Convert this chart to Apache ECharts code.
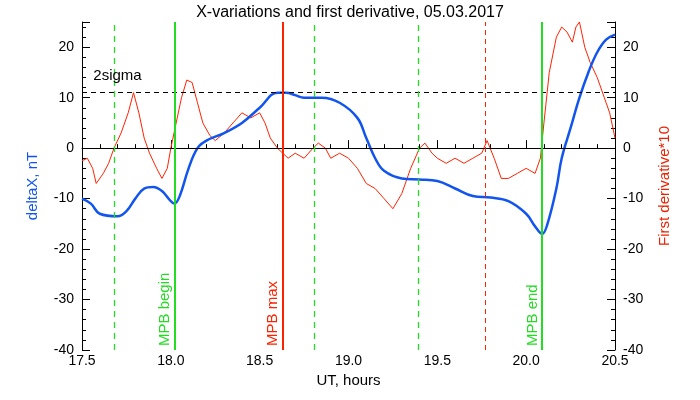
<!DOCTYPE html><html><head><meta charset="utf-8"><script src="https://cdn.jsdelivr.net/npm/echarts@6/dist/echarts.min.js"></script></head><body style="margin:0"><div id="c" style="width:700px;height:400px"></div><script>
const blueX=[17.5,17.55,17.6,17.7,17.75,17.8,17.85,17.9,17.95,18.0,18.02,18.05,18.1,18.15,18.2,18.3,18.4,18.5,18.6,18.65,18.7,18.75,18.85,18.95,19.05,19.1,19.15,19.2,19.3,19.4,19.5,19.6,19.7,19.8,19.9,20.0,20.05,20.09,20.12,20.17,20.2,20.25,20.3,20.35,20.4,20.45,20.5];
const blueY=[-10,-11,-13,-13.5,-12.5,-10,-8,-7.7,-8.5,-10.5,-11,-9.5,-4,0,1.5,3,5,8,11,11,10.5,10,10,9,6,2,-2,-4.5,-6,-6.2,-6.5,-8,-9.5,-9.8,-10.5,-13,-15.5,-17,-15,-8,-2,4,10,15,19,21.5,22.5];
const redX=[17.5,17.53,17.56,17.58,17.62,17.65,17.68,17.72,17.76,17.79,17.82,17.85,17.88,17.92,17.95,17.98,18.0,18.03,18.06,18.09,18.12,18.15,18.18,18.22,18.25,18.3,18.35,18.4,18.45,18.5,18.53,18.56,18.6,18.63,18.66,18.7,18.75,18.8,18.83,18.87,18.9,18.95,19.0,19.05,19.1,19.15,19.2,19.25,19.3,19.35,19.4,19.43,19.47,19.5,19.55,19.6,19.65,19.7,19.75,19.78,19.82,19.86,19.9,19.95,20.0,20.05,20.08,20.1,20.13,20.17,20.2,20.23,20.26,20.28,20.3,20.33,20.36,20.4,20.44,20.47,20.5];
const redY=[-2.5,-2,-4,-7,-5,-3,0,3,7,11,7,2,-1,-4,-6,-4,0,5,10,13.5,13,9,5,2.5,1.5,3,5,7,6,7,5,2,0,-1,-2,-1,-2,0,1,0,-2,-1,-2,-4,-7,-8,-10,-12,-9,-4,0,1,-1,-2,-3,-2,-3,-2,-1,1.5,-2,-6,-6,-5,-4,-5,-2,5,15,22,24,23,21,24,25,20,17,14,10,7,2];
const sigma=11;
const F='Liberation Sans';
const pair=(a,b)=>a.map((v,i)=>[v,b[i]]);
const vl=(x,color,type,w,label)=>({xAxis:x,lineStyle:{color,type,width:w},label:label?{show:true,formatter:label,position:'insideStartTop',color,fontSize:15,fontFamily:F,distance:[4,2]}:{show:false}});
const ax={type:'value',min:-40,max:25,interval:10,axisLine:{show:true,lineStyle:{color:'#000'}},axisTick:{inside:true,length:8,lineStyle:{color:'#000'}},minorTick:{show:true,splitNumber:5,length:4,lineStyle:{color:'#000'}},splitLine:{show:false},axisLabel:{color:'#000',fontSize:14,fontFamily:F,showMaxLabel:false},nameLocation:'middle',nameGap:42,nameTextStyle:{fontSize:15,fontFamily:F}};
const c=echarts.init(document.getElementById('c'));
c.setOption({animation:false,backgroundColor:'#fff',
title:{text:'X-variations and first derivative, 05.03.2017',left:'center',top:0,textStyle:{fontSize:16,fontWeight:'normal',fontFamily:F,color:'#000'}},
grid:{left:82,right:85,top:22,bottom:50},
xAxis:{type:'value',min:17.5,max:20.5,interval:0.5,name:'UT, hours',nameLocation:'middle',nameGap:23,nameTextStyle:{fontSize:15,fontFamily:F,color:'#000'},axisLine:{lineStyle:{color:'#000'}},axisTick:{inside:true,length:8,lineStyle:{color:'#000'}},minorTick:{show:true,splitNumber:5,length:4,lineStyle:{color:'#000'}},splitLine:{show:false},axisLabel:{color:'#000',fontSize:14,fontFamily:F,formatter:v=>v.toFixed(1),margin:4}},
yAxis:[Object.assign({},ax,{position:'left',name:'deltaX, nT',nameTextStyle:Object.assign({},ax.nameTextStyle,{color:'#1155ee'})}),Object.assign({},ax,{position:'right',name:'First derivative*10',nameTextStyle:Object.assign({},ax.nameTextStyle,{color:'#ee2200'})})],
series:[
{type:'line',data:pair(redX,redY),yAxisIndex:1,symbol:'none',lineStyle:{color:'#ff2200',width:1},
 markLine:{symbol:'none',silent:true,data:[
  {yAxis:0,lineStyle:{color:'#000',type:'solid',width:1},label:{show:false}},
  {yAxis:sigma,lineStyle:{color:'#000',type:[5,4],width:1},label:{show:false}},
  vl(17.68,'#22dd22',[6,5],1.3),vl(18.81,'#22dd22',[6,5],1.3),vl(19.39,'#22dd22',[6,5],1.3),
  vl(19.77,'#ff2200',[5,4],1),
  vl(18.02,'#22dd22','solid',2,'MPB begin'),vl(20.09,'#22dd22','solid',2,'MPB end'),vl(18.63,'#ff2200','solid',2,'MPB max')]}},
{type:'line',data:pair(blueX,blueY),smooth:0.4,symbol:'none',lineStyle:{color:'#1155ee',width:2.5},
 markPoint:{symbol:'circle',symbolSize:0,data:[{coord:[17.7,sigma+3.3],label:{show:true,formatter:'2sigma',color:'#000',fontSize:15,fontFamily:F,position:'inside'}}]}}
]});
</script></body></html>
